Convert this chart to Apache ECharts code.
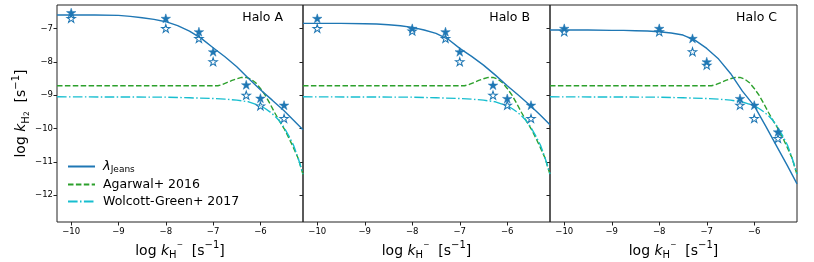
<!DOCTYPE html>
<html>
<head>
<meta charset="utf-8">
<script src="https://cdn.jsdelivr.net/npm/echarts@6/dist/echarts.min.js"></script>
<style>html,body{margin:0;padding:0;background:#fff}#c{width:814px;height:262px}</style>
</head>
<body>
<div id="c"></div>
<script>
// ---- data ----
const haloNames = ['Halo A', 'Halo B', 'Halo C'];
const xTicks = [-10, -9, -8, -7, -6];
const yTicks = [-12, -11, -10, -9, -8, -7];

const xJeans = [-10.3, -9.5, -9, -8.75, -8.5, -8.25, -8, -7.75, -7.5, -7.25, -7, -6.75, -6.5, -6.25, -6, -5.75, -5.5, -5.3, -5.1];
const yJeansA = [-6.6, -6.6, -6.61, -6.64, -6.68, -6.73, -6.8, -6.92, -7.08, -7.3, -7.58, -7.85, -8.15, -8.5, -8.84, -9.15, -9.47, -9.75, -10.04];
const yJeansB = [-6.85, -6.85, -6.86, -6.87, -6.89, -6.92, -6.97, -7.05, -7.15, -7.32, -7.6, -7.84, -8.1, -8.4, -8.72, -9.02, -9.33, -9.6, -9.89];
const yJeansC = [-7.05, -7.05, -7.06, -7.06, -7.07, -7.08, -7.1, -7.14, -7.2, -7.35, -7.6, -7.92, -8.35, -8.88, -9.32, -9.95, -10.6, -11.12, -11.66];

const xAgarwal = [-10.3, -7.5, -6.9, -6.8, -6.7, -6.6, -6.5, -6.4, -6.3, -6.2, -6.1, -6.0, -5.9, -5.8, -5.7, -5.6, -5.5, -5.4, -5.3, -5.2, -5.1];
const yAgarwal = [-8.72, -8.72, -8.72, -8.68, -8.62, -8.56, -8.51, -8.47, -8.47, -8.52, -8.63, -8.8, -9.0, -9.25, -9.52, -9.77, -10.0, -10.28, -10.58, -10.9, -11.38];

const xWolcott = [-10.3, -8, -7.5, -7, -6.75, -6.5, -6.25, -6.0, -5.9, -5.8, -5.7, -5.6, -5.5, -5.4, -5.3, -5.2, -5.1];
const yWolcott = [-9.05, -9.06, -9.08, -9.1, -9.12, -9.15, -9.2, -9.32, -9.4, -9.5, -9.62, -9.77, -9.97, -10.22, -10.5, -10.9, -11.36];

const xStars = [-10, -8, -7.3, -7, -6.3, -6, -5.5];
const filledA = [-6.53, -6.7, -7.1, -7.7, -8.69, -9.09, -9.3];
const hollowA = [-6.7, -7.0, -7.3, -8.0, -9.0, -9.32, -9.7];
const filledB = [-6.7, -7.0, -7.1, -7.7, -8.7, -9.1, -9.3];
const hollowB = [-7.0, -7.08, -7.3, -8.0, -9.0, -9.3, -9.7];
const filledC = [-7.0, -7.0, -7.3, -8.0, -9.1, -9.3, -10.1];
const hollowC = [-7.1, -7.1, -7.7, -8.1, -9.3, -9.7, -10.3];

// ---- build ----
const zip = (xs, ys) => xs.map((x, i) => [x, ys[i]]);
const jeans = [yJeansA, yJeansB, yJeansC];
const filled = [filledA, filledB, filledC];
const hollow = [hollowA, hollowB, hollowC];

const BLUE = '#1f77b4', GREEN = '#2ca02c', CYAN = '#17becf';
const FONT = 'DejaVu Sans';
const STAR = 'path://M0,-100 L22.45,-30.9 L95.1,-30.9 L36.3,11.8 L58.8,80.9 L0,38.2 L-58.8,80.9 L-36.3,11.8 L-95.1,-30.9 L-22.45,-30.9 Z';
const minus = v => String(v).replace('-', '\u2212');

const gridLefts = [57, 303, 550];
const gridWidths = [246, 247, 247];
const grids = [], xAxes = [], yAxes = [], series = [], titles = [];

const axisRich = {
  n: {fontSize: 14, fontFamily: FONT, color: '#000', lineHeight: 20},
  i: {fontSize: 14, fontFamily: FONT, fontStyle: 'italic', color: '#000', lineHeight: 20},
  s: {fontSize: 10, fontFamily: FONT, color: '#000', lineHeight: 12, verticalAlign: 'bottom'},
  ss: {fontSize: 7.5, fontFamily: FONT, color: '#000', lineHeight: 8, verticalAlign: 'bottom'},
  sm: {fontSize: 7.5, fontFamily: FONT, color: '#000', lineHeight: 17, verticalAlign: 'top'},
  sp: {fontSize: 10, fontFamily: FONT, color: '#000', lineHeight: 10, verticalAlign: 'top'}
};

for (let p = 0; p < 3; p++) {
  grids.push({left: gridLefts[p], width: gridWidths[p], top: 5, height: 217,
    outerBoundsMode: 'none', containLabel: false,
    show: true, borderColor: '#222', borderWidth: 1, backgroundColor: 'transparent'});
  xAxes.push({
    type: 'value', gridIndex: p, min: -10.3, max: -5.1,
    splitLine: {show: false}, axisLine: {show: false},
    axisTick: {show: true, inside: false, length: 3.5, lineStyle: {color: '#222'}, customValues: xTicks},
    axisLabel: {show: true, margin: 5, fontSize: 8.5, fontFamily: FONT, color: '#000', formatter: minus, customValues: xTicks},
    name: '{n|log }{i|k}{s|H}{sm|\u2212}{n|  [s}{sp|\u22121}{n|]}',
    nameLocation: 'middle', nameGap: 18,
    nameTextStyle: {rich: axisRich}
  });
  yAxes.push({
    type: 'value', gridIndex: p, min: -12.8, max: -6.3,
    splitLine: {show: false}, axisLine: {show: false},
    axisTick: {show: true, inside: false, length: 3.5, lineStyle: {color: '#222'}, customValues: yTicks},
    axisLabel: {show: p === 0, margin: 4, fontSize: 8.5, fontFamily: FONT, color: '#000', formatter: minus, customValues: yTicks},
    name: p === 0 ? '{n|log }{i|k}{s|H}{ss|2}{n|  [s}{sp|\u22121}{n|]}' : '',
    nameLocation: 'middle', nameGap: 26,
    nameTextStyle: {rich: axisRich}
  });
  series.push({
    name: 'lambda', type: 'line', xAxisIndex: p, yAxisIndex: p,
    data: zip(xJeans, jeans[p]), symbol: 'none', smooth: false,
    lineStyle: {color: BLUE, width: 1.4}, itemStyle: {color: BLUE}, z: 3
  });
  series.push({
    name: 'Agarwal+ 2016', type: 'line', xAxisIndex: p, yAxisIndex: p,
    data: zip(xAgarwal, yAgarwal), symbol: 'none', smooth: false,
    lineStyle: {color: GREEN, width: 1.4, type: [5.5, 2.4]}, itemStyle: {color: GREEN}, z: 2
  });
  series.push({
    name: 'Wolcott-Green+ 2017', type: 'line', xAxisIndex: p, yAxisIndex: p,
    data: zip(xWolcott, yWolcott), symbol: 'none', smooth: false,
    lineStyle: {color: CYAN, width: 1.4, type: [9.6, 2.4, 1.5, 2.4]}, itemStyle: {color: CYAN}, z: 2
  });
  series.push({
    name: 'sim-filled', type: 'scatter', xAxisIndex: p, yAxisIndex: p,
    data: zip(xStars, filled[p]), symbol: STAR, symbolSize: [9.5, 9],
    itemStyle: {color: BLUE, borderColor: BLUE, borderWidth: 0.5, opacity: 1}, z: 5
  });
  series.push({
    name: 'sim-hollow', type: 'scatter', xAxisIndex: p, yAxisIndex: p,
    data: zip(xStars, hollow[p]), symbol: STAR, symbolSize: [8.5, 8],
    itemStyle: {color: 'rgba(255,255,255,0)', borderColor: BLUE, borderWidth: 1, opacity: 1}, z: 6
  });
  titles.push({
    text: haloNames[p], right: 814 - (gridLefts[p] + gridWidths[p] - 20), top: 11, padding: 0,
    textStyle: {fontSize: 12.5, fontWeight: 'normal', fontFamily: FONT, color: '#000'}
  });
}

const option = {
  animation: false,
  backgroundColor: '#fff',
  title: titles,
  grid: grids,
  xAxis: xAxes,
  yAxis: yAxes,
  legend: {
    data: ['lambda', 'Agarwal+ 2016', 'Wolcott-Green+ 2017'],
    orient: 'vertical', left: 62, top: 155, itemWidth: 27, itemHeight: 10, itemGap: 4,
    selectedMode: false,
    itemStyle: {opacity: 0},
    formatter: n => n === 'lambda' ? '{l|\u03bb}{j|Jeans}' : '{t|' + n + '}',
    textStyle: {
      fontSize: 12.5, fontFamily: FONT, color: '#000', padding: [0, 0, 0, 3],
      rich: {
        t: {fontSize: 12.5, fontFamily: FONT, color: '#000', lineHeight: 15},
        l: {fontSize: 13, fontFamily: FONT, fontStyle: 'italic', color: '#000', lineHeight: 15},
        j: {fontSize: 9, fontFamily: FONT, color: '#000', lineHeight: 10, verticalAlign: 'bottom'}
      }
    }
  },
  series: series
};

const chart = echarts.init(document.getElementById('c'), null, {renderer: 'canvas'});
chart.setOption(option);
</script>
</body>
</html>
